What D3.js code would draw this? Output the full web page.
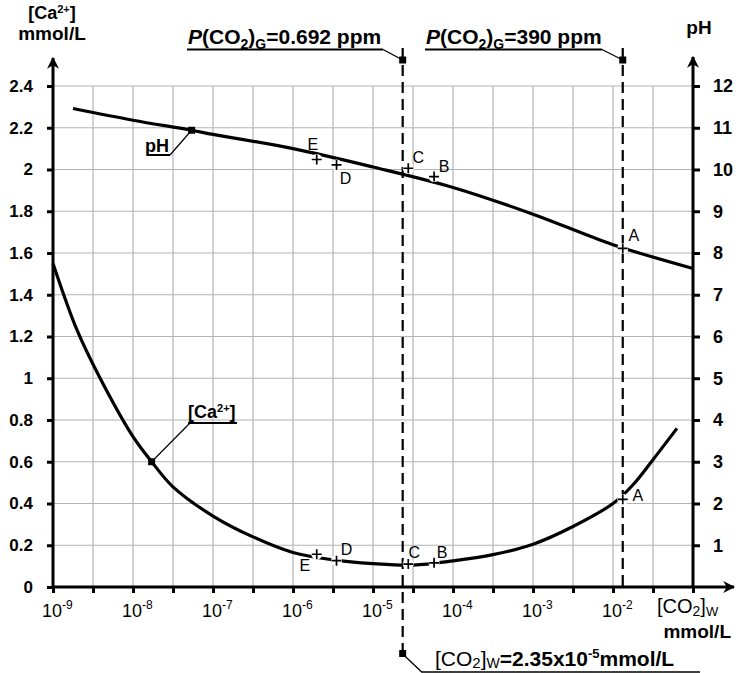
<!DOCTYPE html>
<html><head><meta charset="utf-8">
<script src="https://cdn.jsdelivr.net/npm/d3@7"></script>
<style>
body{margin:0;background:#fff}
svg{display:block}
text{font-family:"Liberation Sans",Arial,sans-serif;fill:#000}
</style>
</head><body><svg id="chart" width="736" height="673"></svg>
<script>
// Dissolved CO2 (mmol/L) against calcium concentration (mmol/L)
const caCO2   = [1e-9, 2e-9, 4e-9, 1e-8, 1.71e-8, 3.16e-8, 1e-7, 3.16e-7, 1e-6, 3.16e-6, 1e-5, 3.16e-5, 1e-4, 3.16e-4, 1e-3, 3.16e-3, 1e-2, 1.78e-2, 3.16e-2, 6.3e-2];
const caValues = [1.55, 1.23, 0.99, 0.72, 0.60, 0.48, 0.34, 0.24, 0.165, 0.13, 0.112, 0.105, 0.125, 0.155, 0.205, 0.29, 0.40, 0.49, 0.61, 0.76];

// Dissolved CO2 (mmol/L) against pH
const phCO2   = [1.78e-9, 1e-8, 5.4e-8, 1e-7, 1e-6, 1e-5, 1e-4, 1e-3, 1e-2, 1e-1];
const phValues = [11.46, 11.18, 10.94, 10.84, 10.50, 10.06, 9.57, 8.93, 8.20, 7.63];

// Labelled states A-E
const pointNames = ["E", "D", "C", "B", "A"];
const pointCO2   = [1.98e-6, 3.5e-6, 2.76e-5, 5.8e-5, 1.324e-2];
const pointPH    = [10.24, 10.11, 10.03, 9.83, 8.11];
const pointCa    = [0.157, 0.126, 0.11, 0.116, 0.42];

// Reference CO2 levels (dashed verticals)
const refCO2 = [2.35e-5, 1.324e-2];

// Tick values
const caTicks = [0, 0.2, 0.4, 0.6, 0.8, 1, 1.2, 1.4, 1.6, 1.8, 2, 2.2, 2.4];
const phTicks = [1, 2, 3, 4, 5, 6, 7, 8, 9, 10, 11, 12];
const decadeExps = [-9, -8, -7, -6, -5, -4, -3, -2];

const svg = d3.select("#chart");
const plotLeft = 53, plotRight = 693, plotTop = 86, plotBottom = 587;

const x = d3.scaleLog().domain([1e-9, 1e-1]).range([plotLeft, plotRight]);
const yCa = d3.scaleLinear().domain([0, 2.4]).range([plotBottom, plotTop]);
const yPH = d3.scaleLinear().domain([0, 12]).range([plotBottom, plotTop]);

// grid
const halfDecades = d3.range(-17, -1).map(k => Math.pow(10, k / 2));
svg.append("g").selectAll("line").data(halfDecades).join("line")
  .attr("x1", d => x(d)).attr("x2", d => x(d))
  .attr("y1", plotTop).attr("y2", plotBottom)
  .attr("stroke", "#b4b4b4").attr("stroke-width", 1.2);
svg.append("g").selectAll("line").data(caTicks.slice(1)).join("line")
  .attr("x1", plotLeft).attr("x2", plotRight)
  .attr("y1", d => yCa(d)).attr("y2", d => yCa(d))
  .attr("stroke", "#b4b4b4").attr("stroke-width", 1.2);

// arrowheads
const defs = svg.append("defs");
defs.append("marker").attr("id", "arrow").attr("viewBox", "0 0 10 10")
  .attr("refX", 9).attr("refY", 5).attr("markerWidth", 4).attr("markerHeight", 4)
  .attr("orient", "auto-start-reverse").attr("markerUnits", "strokeWidth")
  .append("path").attr("d", "M0,0 L10,5 L0,10 L3,5 Z").attr("fill", "#000");

// axes lines
svg.append("line").attr("x1", plotLeft).attr("x2", plotLeft).attr("y1", plotBottom + 1).attr("y2", 58)
  .attr("stroke", "#000").attr("stroke-width", 3).attr("marker-end", "url(#arrow)");
svg.append("line").attr("x1", plotRight).attr("x2", plotRight).attr("y1", plotBottom + 1).attr("y2", 57)
  .attr("stroke", "#000").attr("stroke-width", 3).attr("marker-end", "url(#arrow)");
svg.append("line").attr("x1", plotLeft - 1).attr("x2", 734).attr("y1", plotBottom).attr("y2", plotBottom)
  .attr("stroke", "#000").attr("stroke-width", 3).attr("marker-end", "url(#arrow)");

// left axis ticks
const gL = svg.append("g").attr("transform", `translate(${plotLeft},0)`)
  .call(d3.axisLeft(yCa).tickValues(caTicks).tickSize(6).tickPadding(14)
    .tickFormat(d => d3.format("")(+d.toFixed(1))));
gL.select(".domain").remove();
gL.selectAll(".tick line").attr("stroke-width", 3);
gL.selectAll(".tick text").attr("font-size", 17).attr("font-weight", "bold")
  .attr("font-family", "Liberation Sans, Arial, sans-serif").attr("fill", "#111");

// right axis ticks
const gR = svg.append("g").attr("transform", `translate(${plotRight},0)`)
  .call(d3.axisRight(yPH).tickValues(phTicks).tickSize(7).tickPadding(13));
gR.select(".domain").remove();
gR.selectAll(".tick line").attr("stroke-width", 3);
gR.selectAll(".tick text").attr("font-size", 18).attr("font-weight", "bold")
  .attr("font-family", "Liberation Sans, Arial, sans-serif").attr("fill", "#111");

// bottom axis ticks at every half decade
const gB = svg.append("g").attr("transform", `translate(0,${plotBottom})`)
  .call(d3.axisBottom(x).tickValues(halfDecades.concat([1e-9, 1e-1])).tickSize(6).tickFormat(""));
gB.select(".domain").remove();
gB.selectAll(".tick line").attr("stroke-width", 3);

// decade labels with superscript exponents
const decLab = svg.append("g").selectAll("text").data(decadeExps).join("text")
  .attr("x", d => x(Math.pow(10, d)) - 11).attr("y", 617)
  .attr("font-size", 18);
decLab.append("tspan").text("10");
decLab.append("tspan").attr("dy", -8).attr("font-size", 12).text(d => "-" + Math.abs(d));

// axis titles
const caTitle = svg.append("text").attr("x", 52).attr("y", 19).attr("text-anchor", "middle")
  .attr("font-size", 18).attr("font-weight", "bold");
caTitle.append("tspan").text("[Ca");
caTitle.append("tspan").attr("dy", -6).attr("font-size", 11).text("2+");
caTitle.append("tspan").attr("dy", 6).text("]");
svg.append("text").attr("x", 52).attr("y", 40).attr("text-anchor", "middle")
  .attr("font-size", 19).attr("font-weight", "bold").text("mmol/L");
svg.append("text").attr("x", 699).attr("y", 34).attr("text-anchor", "middle")
  .attr("font-size", 19).attr("font-weight", "bold").text("pH");

const xTitle = svg.append("text").attr("x", 657).attr("y", 613).attr("font-size", 20);
xTitle.append("tspan").text("[CO");
xTitle.append("tspan").attr("dy", 3).attr("font-size", 14).text("2");
xTitle.append("tspan").attr("dy", -3).text("]");
xTitle.append("tspan").attr("dy", 3).attr("font-size", 13).text("W");
svg.append("text").attr("x", 731).attr("y", 638).attr("text-anchor", "end")
  .attr("font-size", 19).attr("font-weight", "bold").text("mmol/L");

// reference CO2 dashed lines
svg.append("g").selectAll("line").data(refCO2).join("line")
  .attr("x1", d => x(d)).attr("x2", d => x(d))
  .attr("y1", 48).attr("y2", (d, i) => i === 0 ? 655 : plotBottom)
  .attr("stroke", "#000").attr("stroke-width", 2.2).attr("stroke-dasharray", "11,6");

// curves
const lineCa = d3.line().x(d => x(d[0])).y(d => yCa(d[1])).curve(d3.curveCatmullRom.alpha(0.5));
const linePH = d3.line().x(d => x(d[0])).y(d => yPH(d[1])).curve(d3.curveCatmullRom.alpha(0.5));
svg.append("path").attr("d", lineCa(d3.zip(caCO2, caValues)))
  .attr("fill", "none").attr("stroke", "#000").attr("stroke-width", 3.2);
svg.append("path").attr("d", linePH(d3.zip(phCO2, phValues)))
  .attr("fill", "none").attr("stroke", "#000").attr("stroke-width", 3.2);

// labelled states: plus signs with a small gap in the curve
const phOff = [[-4, -15], [9, 14], [10, -11], [10, -10], [11, -13]];
const caOff = [[-12, 11], [10, -11], [6, -12], [8, -10], [15, -4]];
function drawPoints(vals, scale, offs) {
  const g = svg.append("g");
  pointNames.forEach((n, i) => {
    const px = x(pointCO2[i]), py = scale(vals[i]);
    g.append("circle").attr("cx", px).attr("cy", py).attr("r", 5.5).attr("fill", "#fff");
    g.append("path").attr("d", `M${px - 5},${py}H${px + 5}M${px},${py - 5}V${py + 5}`)
      .attr("stroke", "#000").attr("stroke-width", 1.7);
    g.append("text").attr("x", px + offs[i][0]).attr("y", py + offs[i][1])
      .attr("text-anchor", "middle").attr("dominant-baseline", "central")
      .attr("font-size", 16).text(n);
  });
}
drawPoints(pointPH, yPH, phOff);
drawPoints(pointCa, yCa, caOff);

// curve callouts: leader from the curve marker to an underlined label
function callout(px, py, lx, ly, u1, u2) {
  svg.append("line").attr("x1", px).attr("y1", py).attr("x2", lx).attr("y2", ly)
    .attr("stroke", "#000").attr("stroke-width", 1.2);
  svg.append("line").attr("x1", u1).attr("x2", u2).attr("y1", ly).attr("y2", ly)
    .attr("stroke", "#000").attr("stroke-width", 2);
  svg.append("rect").attr("x", px - 3.5).attr("y", py - 3.5).attr("width", 7).attr("height", 7).attr("fill", "#000");
}
const phMark = [phCO2[2], phValues[2]];
callout(x(phMark[0]), yPH(phMark[1]), 170, 155, 147, 170);
svg.append("text").attr("x", 145).attr("y", 152).attr("font-size", 18).attr("font-weight", "bold").text("pH");
const caMark = [caCO2[4], caValues[4]];
callout(x(caMark[0]), yCa(caMark[1]), 190, 423, 188, 237);
const caLab = svg.append("text").attr("x", 188).attr("y", 418).attr("font-size", 18).attr("font-weight", "bold");
caLab.append("tspan").text("[Ca");
caLab.append("tspan").attr("dy", -6).attr("font-size", 11).text("2+");
caLab.append("tspan").attr("dy", 6).text("]");

// gas-phase partial pressure labels
function ppLabel(xStart, xEnd, refX, value) {
  svg.append("line").attr("x1", xEnd).attr("y1", 49.5).attr("x2", refX).attr("y2", 60)
    .attr("stroke", "#000").attr("stroke-width", 1.3);
  svg.append("line").attr("x1", xStart).attr("x2", xEnd).attr("y1", 49.5).attr("y2", 49.5)
    .attr("stroke", "#000").attr("stroke-width", 2);
  svg.append("rect").attr("x", refX - 3.5).attr("y", 56.5).attr("width", 7).attr("height", 7).attr("fill", "#000");
  const t = svg.append("text").attr("x", xStart + 1).attr("y", 44).attr("font-size", 21).attr("font-weight", "bold");
  t.append("tspan").attr("font-style", "italic").text("P");
  t.append("tspan").text("(CO");
  t.append("tspan").attr("dy", 5).attr("font-size", 14).text("2");
  t.append("tspan").attr("dy", -5).text(")");
  t.append("tspan").attr("dy", 5).attr("font-size", 14).text("G");
  t.append("tspan").attr("dy", -5).text("=" + value + " ppm");
}
ppLabel(187, 383, x(refCO2[0]), "0.692");
ppLabel(425, 602, x(refCO2[1]), "390");

// dissolved reference label
const bx = x(refCO2[0]);
svg.append("rect").attr("x", bx - 3.5).attr("y", 650).attr("width", 7).attr("height", 7).attr("fill", "#000");
svg.append("path").attr("d", `M${bx},654L${bx + 19},672H700`)
  .attr("fill", "none").attr("stroke", "#000").attr("stroke-width", 1.3);
const bt = svg.append("text").attr("x", 435).attr("y", 666).attr("font-size", 21);
bt.append("tspan").text("[CO");
bt.append("tspan").attr("dy", 2).attr("font-size", 15).text("2");
bt.append("tspan").attr("dy", -2).text("]");
bt.append("tspan").attr("dy", 2).attr("font-size", 14).text("W");
bt.append("tspan").attr("dy", -2).attr("font-weight", "bold").text("=2.35x10");
bt.append("tspan").attr("dy", -8).attr("font-size", 13).attr("font-weight", "bold").text("-5");
bt.append("tspan").attr("dy", 8).attr("font-weight", "bold").text("mmol/L");
</script>
</body></html>
